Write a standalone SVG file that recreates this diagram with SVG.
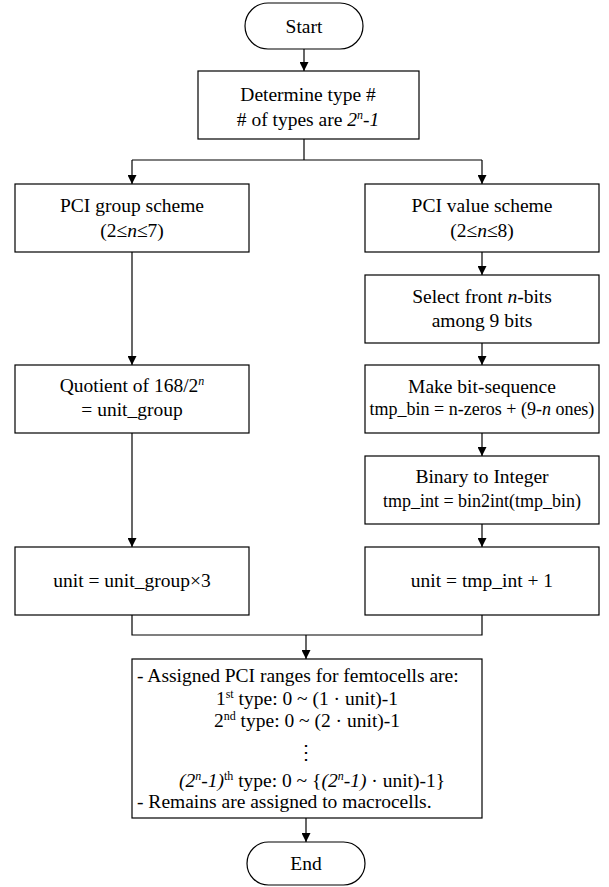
<svg xmlns="http://www.w3.org/2000/svg" width="609" height="887" viewBox="0 0 609 887">
<style>
.box{fill:#fff;stroke:#000;stroke-width:1.2}
.t{font-family:"Liberation Serif","Times New Roman","DejaVu Serif",serif;font-size:19.5px;fill:#000;text-anchor:middle}
.s{font-size:18px}
.l{text-anchor:start}
.i{font-style:italic}
.conn{stroke:#000;stroke-width:1.2;fill:none}
.arr{stroke:#000;stroke-width:1.2;fill:none;marker-end:url(#ah)}
</style>
<defs>
<marker id="ah" viewBox="0 0 10 10" refX="10" refY="5" markerWidth="9" markerHeight="9" markerUnits="userSpaceOnUse" orient="auto">
<path d="M0,0 L10,5 L0,10 z" fill="#000"/>
</marker>
</defs>
<rect width="609" height="887" fill="#fff"/>
<g id="connectors">
<line class="arr" x1="304" y1="49" x2="304" y2="71"/>
<polyline class="conn" points="304,139 304,160"/>
<polyline class="arr" points="132,160 132,184"/>
<polyline class="arr" points="482,160 482,184"/>
<line class="conn" x1="132" y1="160" x2="482" y2="160"/>
<line class="arr" x1="482" y1="252" x2="482" y2="275"/>
<line class="arr" x1="482" y1="343" x2="482" y2="365"/>
<line class="arr" x1="482" y1="433" x2="482" y2="456"/>
<line class="arr" x1="482" y1="524" x2="482" y2="547"/>
<line class="arr" x1="132" y1="252" x2="132" y2="365"/>
<line class="arr" x1="132" y1="433" x2="132" y2="547"/>
<polyline class="conn" points="132,615 132,635 482,635 482,615"/>
<line class="arr" x1="306" y1="635" x2="306" y2="659"/>
<line class="arr" x1="306" y1="818" x2="306" y2="842"/>
</g>
<g id="start">
<rect class="box" x="245" y="3" width="118" height="46" rx="23"/>
<text class="t" x="304" y="33">Start</text>
</g>
<g id="determine">
<rect class="box" x="198" y="71" width="221" height="68"/>
<text class="t" x="308" y="101">Determine type #</text>
<text class="t" x="308" y="126"># of types are <tspan class="i">2</tspan><tspan class="i" font-size="12" baseline-shift="super">n</tspan><tspan class="i">-1</tspan></text>
</g>
<g id="group_scheme">
<rect class="box" x="15" y="184" width="234" height="68"/>
<text class="t" x="132" y="212">PCI group scheme</text>
<text class="t" x="132" y="237">(2≤<tspan class="i">n</tspan>≤7)</text>
</g>
<g id="value_scheme">
<rect class="box" x="365" y="184" width="234" height="68"/>
<text class="t" x="482" y="212">PCI value scheme</text>
<text class="t" x="482" y="237">(2≤<tspan class="i">n</tspan>≤8)</text>
</g>
<g id="select_bits">
<rect class="box" x="365" y="275" width="234" height="68"/>
<text class="t" x="482" y="303">Select front <tspan class="i">n</tspan>-bits</text>
<text class="t" x="482" y="327">among 9 bits</text>
</g>
<g id="make_seq">
<rect class="box" x="365" y="365" width="234" height="68"/>
<text class="t" x="482" y="393">Make bit-sequence</text>
<text class="t s" x="482" y="415">tmp_bin = n-zeros + (9-<tspan class="i">n</tspan> ones)</text>
</g>
<g id="bin2int">
<rect class="box" x="365" y="456" width="234" height="68"/>
<text class="t" x="482" y="483">Binary to Integer</text>
<text class="t s" x="482" y="507">tmp_int = bin2int(tmp_bin)</text>
</g>
<g id="quotient">
<rect class="box" x="15" y="365" width="234" height="68"/>
<text class="t" x="132" y="392">Quotient of 168/2<tspan class="i" font-size="12" baseline-shift="super">n</tspan></text>
<text class="t" x="132" y="416">= unit_group</text>
</g>
<g id="unit_group">
<rect class="box" x="15" y="547" width="234" height="68"/>
<text class="t" x="132" y="587">unit = unit_group×3</text>
</g>
<g id="unit_value">
<rect class="box" x="365" y="547" width="234" height="68"/>
<text class="t" x="482" y="587">unit = tmp_int + 1</text>
</g>
<g id="assign">
<rect class="box" x="132" y="659" width="350" height="159"/>
<text class="t l" x="137" y="682">- Assigned PCI ranges for femtocells are:</text>
<text class="t" x="307" y="705">1<tspan font-size="12" baseline-shift="super">st</tspan> type: 0 ~ (1 · unit)-1</text>
<text class="t" x="307" y="727">2<tspan font-size="12" baseline-shift="super">nd</tspan> type: 0 ~ (2 · unit)-1</text>
<text class="t" x="306" y="759" font-size="16">⋮</text>
<text class="t" x="312" y="787"><tspan class="i">(2</tspan><tspan class="i" font-size="12" baseline-shift="super">n</tspan><tspan class="i">-1)</tspan><tspan font-size="12" baseline-shift="super">th</tspan> type: 0 ~ {<tspan class="i">(2</tspan><tspan class="i" font-size="12" baseline-shift="super">n</tspan><tspan class="i">-1)</tspan> · unit)-1}</text>
<text class="t l" x="137" y="808">- Remains are assigned to macrocells.</text>
</g>
<g id="end">
<rect class="box" x="247" y="842" width="118" height="43" rx="21.5"/>
<text class="t" x="306" y="870">End</text>
</g>
</svg>
